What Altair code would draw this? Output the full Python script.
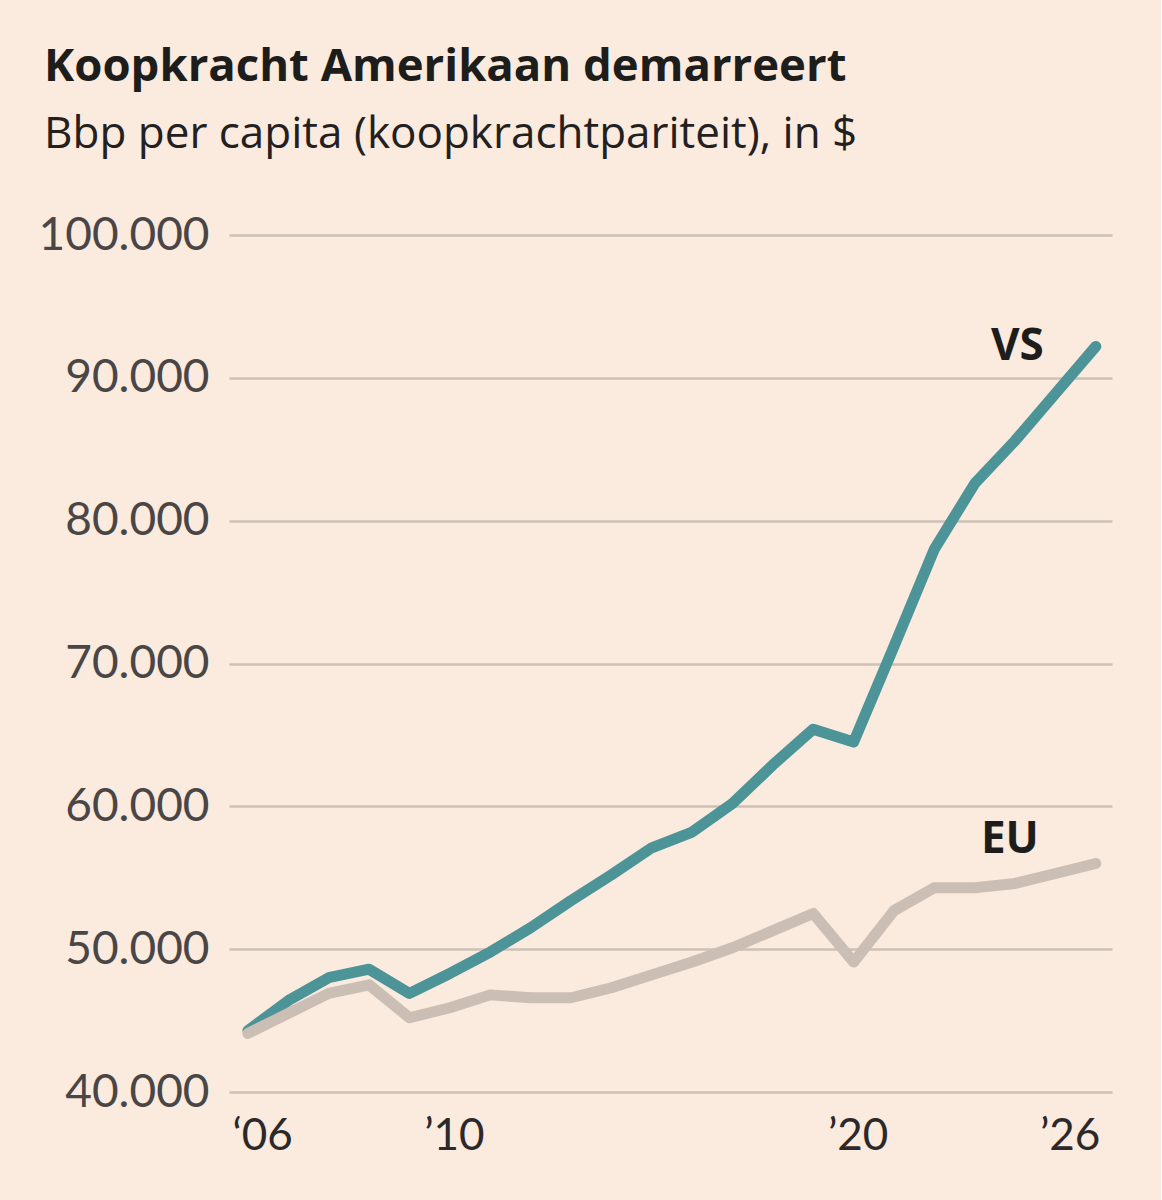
import altair as alt
import pandas as pd

years = list(range(2005, 2027))
vs_values = [44300, 46400, 48000, 48600, 46900, 48300, 49800, 51500, 53400, 55200,
             57100, 58200, 60200, 62900, 65400, 64500, 71200, 78000, 82600, 85600,
             88900, 92200]
eu_values = [44100, 45500, 46900, 47500, 45200, 45900, 46800, 46600, 46600, 47300,
             48200, 49100, 50100, 51300, 52500, 49100, 52700, 54300, 54300, 54600,
             55300, 56000]
series_names = ["VS", "EU"]
series_colors = ["#4c9497", "#cbbfb5"]

x_tick_values = [2006, 2010, 2020, 2026]
x_tick_labels = ["\u201806", "\u201910", "\u201920", "\u201926"]
y_tick_values = [40000, 50000, 60000, 70000, 80000, 90000, 100000]

rows = []
for name, vals in zip(series_names, [vs_values, eu_values]):
    for yr, v in zip(years, vals):
        rows.append({"jaar": yr, "waarde": v, "reeks": name})
df = pd.DataFrame(rows)

last = pd.DataFrame({"jaar": [years[-1], years[-1]],
                     "waarde": [vs_values[-1], eu_values[-1]],
                     "reeks": series_names})

label_expr = " : ".join(
    f"datum.value == {v} ? '{t}'" for v, t in zip(x_tick_values, x_tick_labels)
) + " : ''"

FONT = "Lato"
HEAD_FONT = "Open Sans"

x_enc = alt.X("jaar:Q",
              scale=alt.Scale(domain=[2004.53, 2026.4], nice=False, zero=False),
              axis=alt.Axis(values=x_tick_values, labelExpr=label_expr, title=None,
                            domain=False, ticks=False, grid=False,
                            labelFontSize=44, labelFont=FONT, labelColor="#2b2929",
                            labelPadding=22,
                            labelAlign={"condition": {"test": "datum.value == 2006 || datum.value == 2026",
                                                      "value": "right"},
                                        "value": "center"},
                            labelOffset=4))
y_enc = alt.Y("waarde:Q",
              scale=alt.Scale(domain=[40000, 100000], nice=False, zero=False),
              axis=alt.Axis(values=y_tick_values, title=None,
                            labelExpr="replace(format(datum.value, ','), ',', '.')",
                            domain=False, ticks=False, grid=True,
                            gridColor="#cdc0b5", gridWidth=2.5,
                            labelFontSize=46, labelFont=FONT, labelColor="#4a4646",
                            labelPadding=20))

color_scale = alt.Scale(domain=series_names, range=series_colors)

lines = alt.Chart(df).mark_line(strokeWidth=11, strokeCap="round", strokeJoin="round").encode(
    x=x_enc, y=y_enc,
    color=alt.Color("reeks:N", scale=color_scale, legend=None),
    order=alt.Order("jaar:Q"),
    detail="reeks:N",
)

lab_vs = alt.Chart(last).transform_filter("datum.reeks == 'VS'").mark_text(
    font=HEAD_FONT, fontSize=44, fontWeight="bold", color="#1d1d1b",
    align="right", baseline="alphabetic", dx=-52, dy=14
).encode(x="jaar:Q", y="waarde:Q", text="reeks:N")

lab_eu = alt.Chart(last).transform_filter("datum.reeks == 'EU'").mark_text(
    font=HEAD_FONT, fontSize=44, fontWeight="bold", color="#1d1d1b",
    align="right", baseline="alphabetic", dx=-57, dy=-10
).encode(x="jaar:Q", y="waarde:Q", text="reeks:N")

chart = alt.layer(lines, lab_vs, lab_eu).properties(
    width=883, height=857,
    background="#fbeade",
    padding={"left": 38, "top": 44, "right": 49, "bottom": 42},
    title=alt.TitleParams(
        text="Koopkracht Amerikaan demarreert",
        subtitle="Bbp per capita (koopkrachtpariteit), in $",
        anchor="start", frame="bounds",
        font=HEAD_FONT, fontSize=45.5, fontWeight="bold", color="#1d1d1b",
        subtitleFont=HEAD_FONT, subtitleFontSize=44, subtitleColor="#222020",
        subtitleFontWeight="normal",
        subtitlePadding=23, offset=55, dx=6,
    ),
).configure_view(stroke=None)

chart.save("out.html", embed_options={"renderer": "svg", "actions": False})
